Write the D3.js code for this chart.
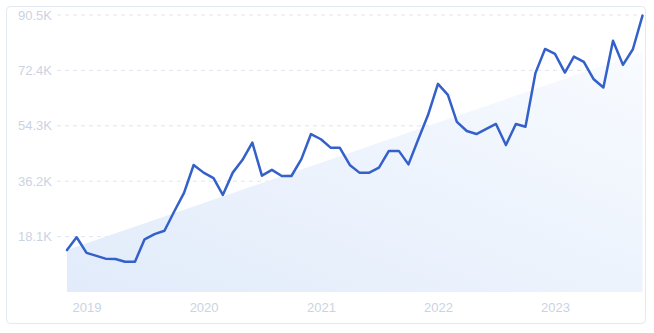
<!DOCTYPE html>
<html>
<head>
<meta charset="utf-8">
<script src="https://cdn.jsdelivr.net/npm/d3@7"></script>
<style>
  body { margin: 0; background: #fff; }
  svg { display: block; font-family: Inter, 'Noto Sans', sans-serif; }
  .grid line { stroke: #dfe5ef; stroke-dasharray: 4 4; }
  .axis text { fill: #cbd3e3; font-size: 13px; }
  .axis path, .axis line { display: none; }
</style>
</head>
<body>
<svg id="chart" width="654" height="333"></svg>
<script>
// monthly values, Nov 2018 .. Oct 2023 (thousands)
const startMonth = new Date(2018, 10, 1);
const values = [
  13.7, 17.9, 12.8, 11.8, 10.9, 10.8, 9.9, 9.9, 17.2, 18.9, 20.0, 26.2,
  32.4, 41.5, 39.0, 37.2, 31.7, 39.0, 43.1, 48.8, 38.0, 39.9, 37.9, 37.9,
  43.4, 51.6, 49.9, 47.1, 47.1, 41.5, 39.0, 39.0, 40.6, 46.1, 46.1, 41.7,
  50.0, 57.8, 68.0, 64.4, 55.6, 52.6, 51.6, 53.3, 54.9, 48.0, 54.9, 54.0,
  71.5, 79.4, 77.8, 71.7, 76.9, 75.2, 69.6, 66.8, 82.1, 74.2, 79.3, 90.3
];
const trendValues = [13.7, 78.4]; // shaded trend, first and last month
const yTicks = [18.1, 36.2, 54.3, 72.4, 90.5];
const yearTicks = [2019, 2020, 2021, 2022, 2023];

const dates = values.map((v, i) => d3.timeMonth.offset(startMonth, i));
const data = values.map((v, i) => ({ date: dates[i], value: v }));

const svg = d3.select('#chart');
const margin = { top: 15, right: 11.5, bottom: 41, left: 67 };
const width = +svg.attr('width'), height = +svg.attr('height');

const x = d3.scaleTime()
  .domain([dates[0], dates[dates.length - 1]])
  .range([margin.left, width - margin.right]);
const y = d3.scaleLinear()
  .domain([0, 90.5])
  .range([height - margin.bottom, margin.top]);

// card
svg.append('rect')
  .attr('x', 6.5).attr('y', 6.5)
  .attr('width', 639).attr('height', 317)
  .attr('rx', 4)
  .attr('fill', '#fff')
  .attr('stroke', '#e3e9f3');

// gradient for trend area
const defs = svg.append('defs');
const grad = defs.append('linearGradient')
  .attr('id', 'trendFill')
  .attr('x1', '0%').attr('y1', '100%')
  .attr('x2', '100%').attr('y2', '0%');
grad.append('stop').attr('offset', '0%').attr('stop-color', '#e1ebfa');
grad.append('stop').attr('offset', '55%').attr('stop-color', '#eef4fd');
grad.append('stop').attr('offset', '100%').attr('stop-color', '#f8fbff');

// grid
svg.append('g')
  .attr('class', 'grid')
  .selectAll('line')
  .data(yTicks)
  .enter().append('line')
  .attr('x1', 57).attr('x2', width - margin.right)
  .attr('y1', d => y(d)).attr('y2', d => y(d));

// trend area
const trend = [
  { date: dates[0], value: trendValues[0] },
  { date: dates[dates.length - 1], value: trendValues[1] }
];
svg.append('path')
  .datum(trend)
  .attr('fill', 'url(#trendFill)')
  .attr('d', d3.area()
    .x(d => x(d.date))
    .y0(y(0))
    .y1(d => y(d.value)));

// line
svg.append('path')
  .datum(data)
  .attr('fill', 'none')
  .attr('stroke', '#3360c9')
  .attr('stroke-width', 2.5)
  .attr('stroke-linejoin', 'round')
  .attr('stroke-linecap', 'round')
  .attr('d', d3.line()
    .x(d => x(d.date))
    .y(d => y(d.value)));

// y axis
svg.append('g')
  .attr('class', 'axis axis--y')
  .attr('transform', 'translate(52,0)')
  .call(d3.axisLeft(y).tickValues(yTicks).tickSize(0).tickPadding(0)
    .tickFormat(d => d3.format('.1f')(d) + 'K'));

// x axis
svg.append('g')
  .attr('class', 'axis axis--x')
  .attr('transform', 'translate(0,' + (height - margin.bottom) + ')')
  .call(d3.axisBottom(x)
    .tickValues(yearTicks.map(yr => new Date(yr, 0, 1)))
    .tickSize(0).tickPadding(11)
    .tickFormat(d3.timeFormat('%Y')));
</script>
</body>
</html>
